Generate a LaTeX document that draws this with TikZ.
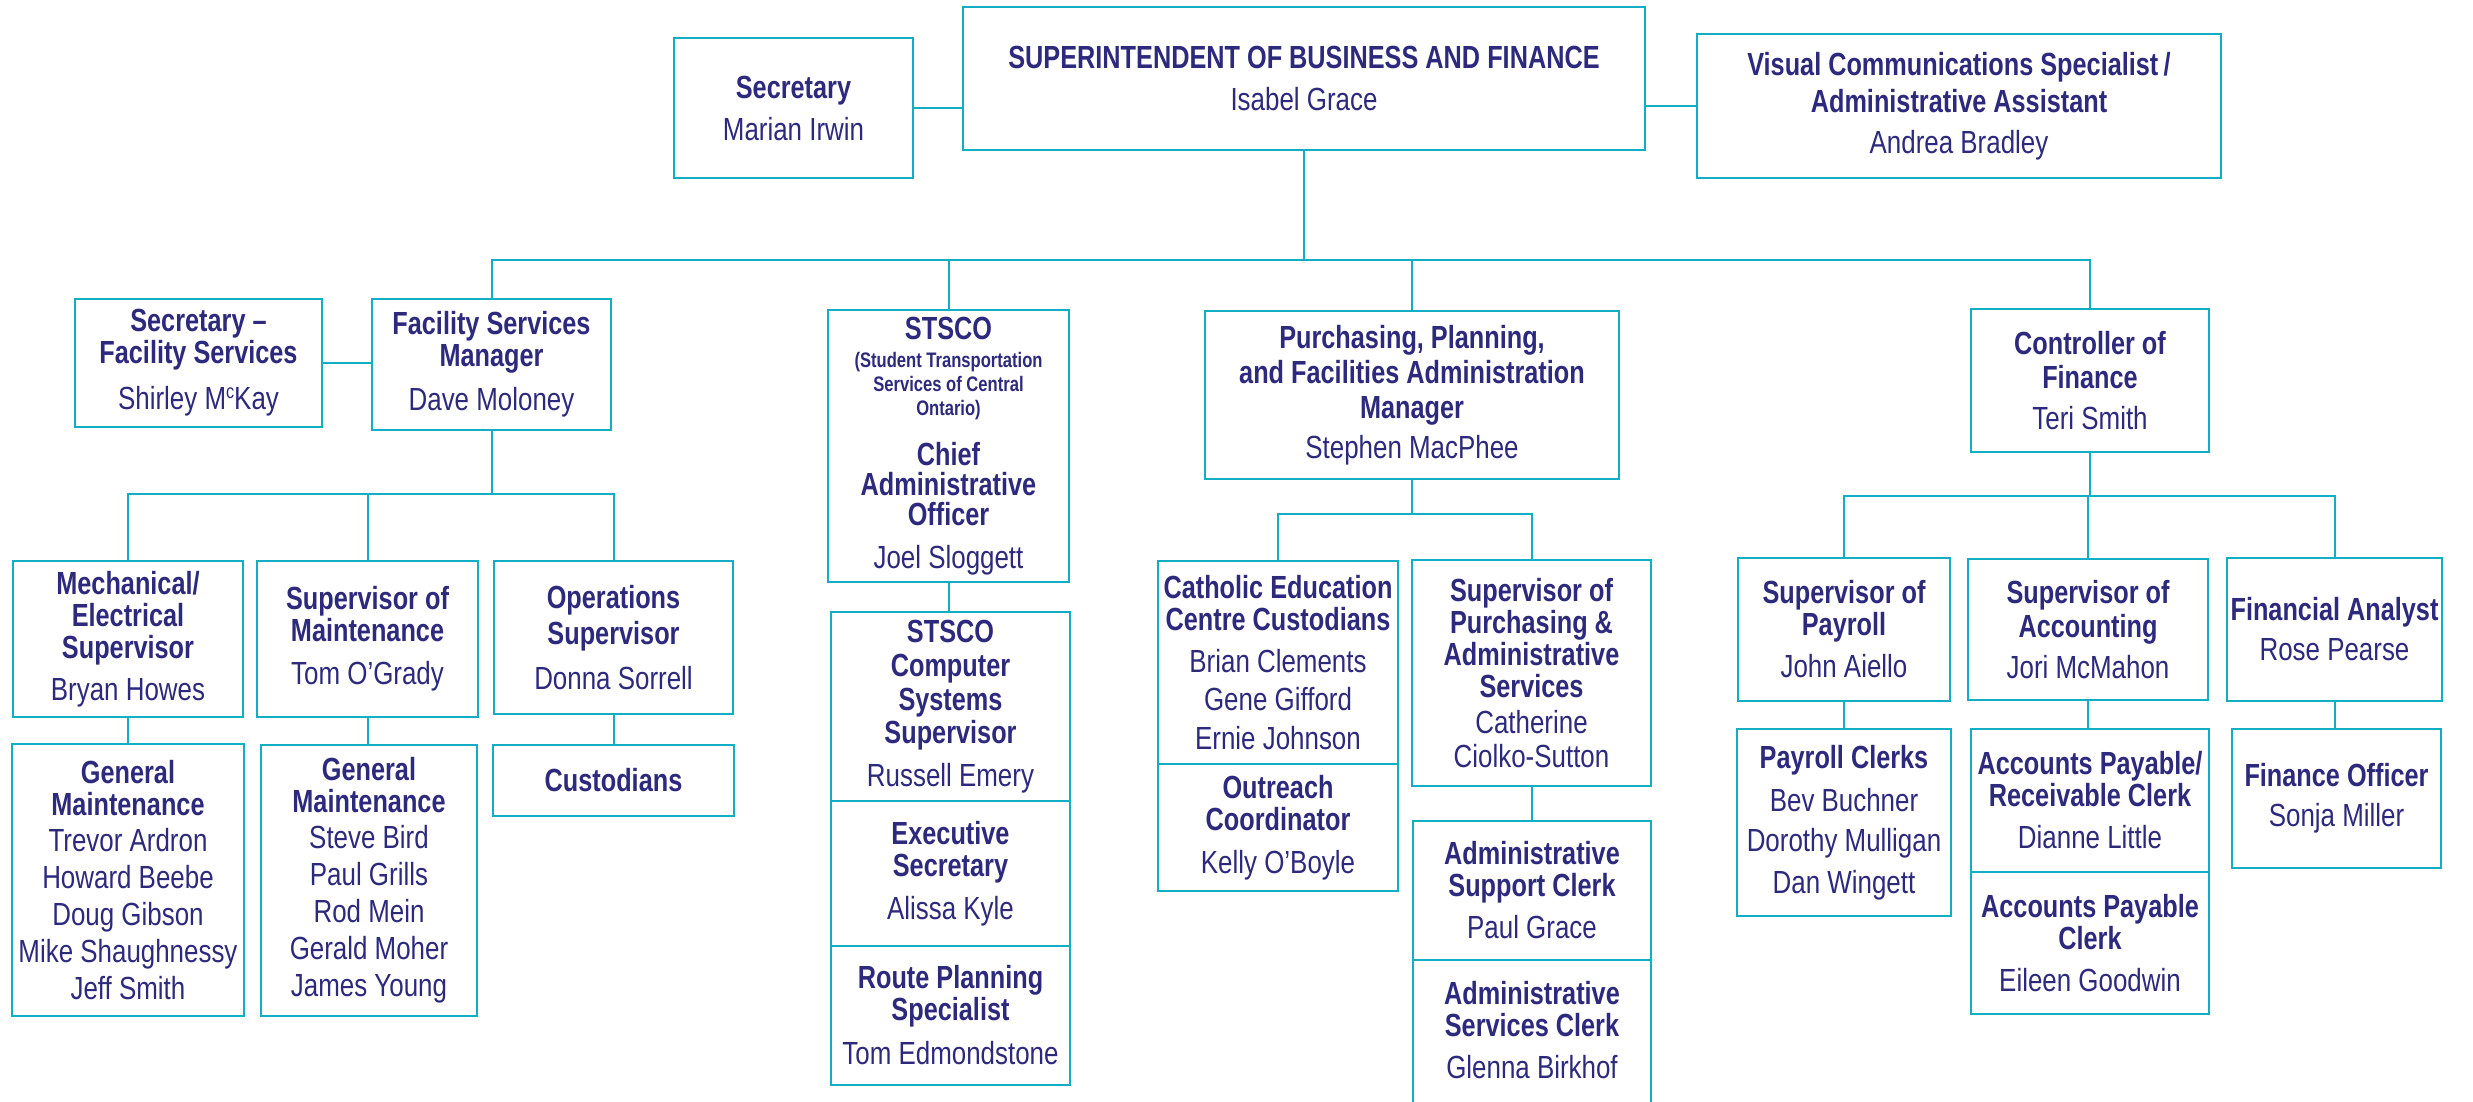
\documentclass[tikz,border=0pt]{standalone}
\usepackage{fontspec}
\setmainfont{Liberation Sans}[FakeStretch=0.81,BoldFeatures={FakeStretch=0.79}]
\definecolor{txtC}{RGB}{45,42,125}
\definecolor{lineC}{RGB}{18,175,196}
\newcommand{\B}[1]{\textbf{#1}}
\newcommand{\SM}[1]{{\fontsize{21}{24}\selectfont\bfseries #1}}
\begin{document}
\begin{tikzpicture}[x=1pt,y=-1pt,
  orgbox/.style={draw=lineC, line width=2pt, inner sep=0pt, align=center, text=txtC, font=\fontsize{32}{32}\selectfont},
  txtonly/.style={inner sep=0pt, align=center, text=txtC, font=\fontsize{32}{32}\selectfont},
  conn/.style={draw=lineC, line width=2pt}]
\fill[white] (0,0) rectangle (2473,1101);
\useasboundingbox (0,0) rectangle (2473,1101);

% top level
\node[orgbox, minimum width=239pt, minimum height=140pt] (sec) at (793.5,108) {\B{Secretary}\\[10pt]Marian Irwin};
\node[orgbox, minimum width=682pt, minimum height=143pt] (sup) at (1304,78.5) {\B{SUPERINTENDENT OF BUSINESS AND FINANCE}\\[10pt]Isabel Grace};
\node[orgbox, minimum width=524pt, minimum height=144pt] (vcs) at (1959,106) {\B{Visual Communications Specialist\,/}\\[5pt]\B{Administrative Assistant}\\[9pt]Andrea Bradley};

% second level
\node[orgbox, minimum width=247pt, minimum height=128pt] (secfs) at (198.5,363) {\B{Secretary --}\\\B{Facility Services}\\[14pt]Shirley M\raisebox{11pt}{\fontsize{20}{20}\selectfont c}Kay};
\node[orgbox, minimum width=239pt, minimum height=131pt] (fsm) at (491.5,364.5) {\B{Facility Services}\\\B{Manager}\\[12pt]Dave Moloney};
\node[orgbox, minimum width=241pt, minimum height=272pt] (stsco) at (948.5,446) {\B{STSCO}\\[-4pt]\SM{(Student Transportation}\\[-8pt]\SM{Services of Central}\\[-8pt]\SM{Ontario)}\\[18pt]\B{Chief}\\[-2pt]\B{Administrative}\\[-2pt]\B{Officer}\\[11pt]Joel Sloggett};
\node[orgbox, minimum width=414pt, minimum height=168pt] (ppf) at (1412,395) {\B{Purchasing, Planning,}\\[3pt]\B{and Facilities Administration}\\[3pt]\B{Manager}\\[8pt]Stephen MacPhee};
\node[orgbox, minimum width=238pt, minimum height=143pt] (ctrl) at (2090,380.5) {\B{Controller of}\\[2pt]\B{Finance}\\[9pt]Teri Smith};

% facility services branch
\node[orgbox, minimum width=230pt, minimum height=156pt] (mech) at (128,639) {\B{Mechanical/}\\\B{Electrical}\\\B{Supervisor}\\[10pt]Bryan Howes};
\node[orgbox, minimum width=221pt, minimum height=156pt] (supm) at (367.5,639) {\B{Supervisor of}\\\B{Maintenance}\\[11pt]Tom O’Grady};
\node[orgbox, minimum width=239pt, minimum height=153pt] (ops) at (613.5,637.5) {\B{Operations}\\[4pt]\B{Supervisor}\\[13pt]Donna Sorrell};
\node[orgbox, minimum width=232pt, minimum height=272pt] (gm1) at (128,880) {\B{General}\\\B{Maintenance}\\[4pt]Trevor Ardron\\[5pt]Howard Beebe\\[5pt]Doug Gibson\\[5pt]Mike Shaughnessy\\[5pt]Jeff Smith};
\node[orgbox, minimum width=216pt, minimum height=271pt] (gm2) at (369,880.5) {\B{General}\\\B{Maintenance}\\[4pt]Steve Bird\\[5pt]Paul Grills\\[5pt]Rod Mein\\[5pt]Gerald Moher\\[5pt]James Young};
\node[orgbox, minimum width=241pt, minimum height=71pt] (cust) at (613.5,780.5) {\B{Custodians}};

% STSCO branch
\node[orgbox, minimum width=239pt, minimum height=189pt] (stcomp) at (950.5,706.5) {\B{STSCO}\\[2pt]\B{Computer}\\[2pt]\B{Systems}\\[1pt]\B{Supervisor}\\[11pt]Russell Emery};
\node[orgbox, minimum width=239pt, minimum height=145pt] (exec) at (950.5,873.5) {\B{Executive}\\\B{Secretary}\\[11pt]Alissa Kyle};
\node[orgbox, minimum width=239pt, minimum height=139pt] (route) at (950.5,1015.5) {\B{Route Planning}\\\B{Specialist}\\[12pt]Tom Edmondstone};

% purchasing branch
\node[orgbox, minimum width=240pt, minimum height=203pt] (cec) at (1278,662.5) {\B{Catholic Education}\\\B{Centre Custodians}\\[10pt]Brian Clements\\[6pt]Gene Gifford\\[7pt]Ernie Johnson};
\node[orgbox, minimum width=240pt, minimum height=127pt] (outr) at (1278,827.5) {\B{Outreach}\\\B{Coordinator}\\[11pt]Kelly O’Boyle};
\node[orgbox, minimum width=239pt, minimum height=226pt] (spas) at (1531.5,673) {\B{Supervisor of}\\\B{Purchasing \&}\\\B{Administrative}\\\B{Services}\\[4pt]Catherine\\[2pt]Ciolko-Sutton};
\node[orgbox, minimum width=238pt, minimum height=139pt] (asc) at (1532,890.5) {\B{Administrative}\\\B{Support Clerk}\\[10pt]Paul Grace};
\node[orgbox, minimum width=238pt, minimum height=180pt] (asvc) at (1532,1050) {};
\node[txtonly] (asvct) at (1532,1030) {\B{Administrative}\\\B{Services Clerk}\\[10pt]Glenna Birkhof};

% finance branch
\node[orgbox, minimum width=212pt, minimum height=143pt] (supp) at (1844,629.5) {\B{Supervisor of}\\\B{Payroll}\\[10pt]John Aiello};
\node[orgbox, minimum width=240pt, minimum height=141pt] (supa) at (2088,629.5) {\B{Supervisor of}\\[2pt]\B{Accounting}\\[9pt]Jori McMahon};
\node[orgbox, minimum width=215pt, minimum height=143pt] (fina) at (2334.5,629.5) {\B{Financial Analyst}\\[8pt]Rose Pearse};
\node[orgbox, minimum width=214pt, minimum height=187pt] (payc) at (1844,822.5) {\B{Payroll Clerks}\\[11pt]Bev Buchner\\[8pt]Dorothy Mulligan\\[10pt]Dan Wingett};
\node[orgbox, minimum width=238pt, minimum height=143pt] (apr) at (2090,800.5) {\B{Accounts Payable/}\\\B{Receivable Clerk}\\[10pt]Dianne Little};
\node[orgbox, minimum width=238pt, minimum height=142pt] (apc) at (2090,943) {\B{Accounts Payable}\\\B{Clerk}\\[10pt]Eileen Goodwin};
\node[orgbox, minimum width=209pt, minimum height=139pt] (fo) at (2336.5,798.5) {\B{Finance Officer}\\[8pt]Sonja Miller};

% connectors
\coordinate (b1) at (1304,260);
\coordinate (b2) at (491.5,494);
\coordinate (b3) at (1412,514);
\coordinate (b4) at (2090,496);
\draw[conn] (sec.east) -- (sec.east -| sup.west);
\draw[conn] (vcs.west) -- (vcs.west -| sup.east);
\draw[conn] (sup.south) -- (b1);
\draw[conn] (fsm.north) |- (b1) -| (ctrl.north);
\draw[conn] (stsco.north) -- (stsco.north |- b1);
\draw[conn] (ppf.north) -- (ppf.north |- b1);
\draw[conn] (secfs.east) -- (secfs.east -| fsm.west);
\draw[conn] (fsm.south) -- (b2);
\draw[conn] (mech.north) |- (b2) -| (ops.north);
\draw[conn] (supm.north) -- (supm.north |- b2);
\draw[conn] (mech.south) -- (mech.south |- gm1.north);
\draw[conn] (supm.south) -- (supm.south |- gm2.north);
\draw[conn] (ops.south) -- (ops.south |- cust.north);
\draw[conn] (stsco.south) -- (stsco.south |- stcomp.north);
\draw[conn] (ppf.south) -- (b3);
\draw[conn] (cec.north) |- (b3) -| (spas.north);
\draw[conn] (spas.south) -- (spas.south |- asc.north);
\draw[conn] (ctrl.south) -- (b4);
\draw[conn] (supp.north) |- (b4) -| (fina.north);
\draw[conn] (supa.north) -- (supa.north |- b4);
\draw[conn] (supp.south) -- (supp.south |- payc.north);
\draw[conn] (supa.south) -- (supa.south |- apr.north);
\draw[conn] (fina.south) -- (fina.south |- fo.north);
\end{tikzpicture}
\end{document}
